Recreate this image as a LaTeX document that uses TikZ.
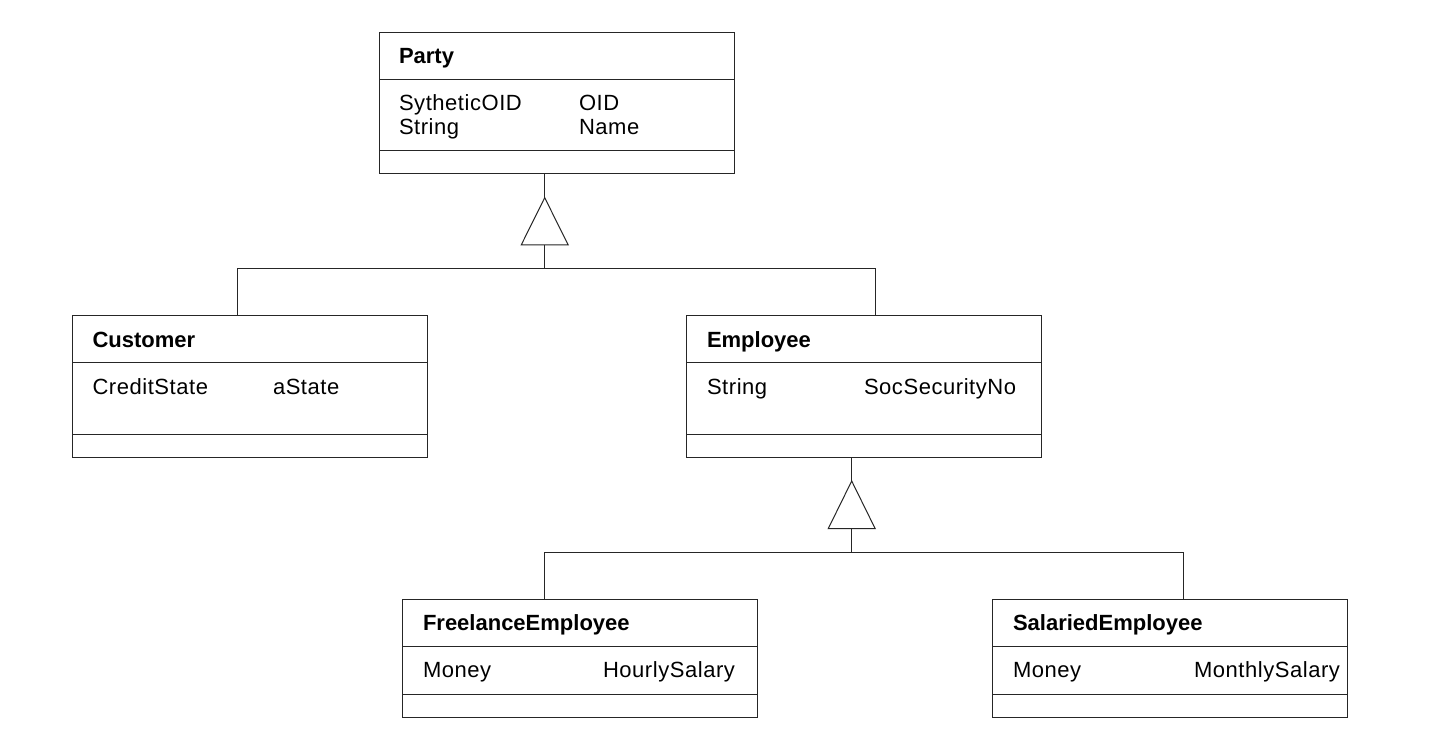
\documentclass[tikz,border=0pt]{standalone}
\usepackage{fontspec}
\setmainfont{Liberation Sans}[LetterSpace=2.5,BoldFeatures={LetterSpace=0}]
\begin{document}
\begin{tikzpicture}[x=1pt,y=-1pt,
  cls/.style={draw=black!85, line width=1pt, inner sep=0pt, outer sep=0pt, anchor=north west},
  divider/.style={draw=black!85, line width=1pt},
  lbl/.style={inner sep=0pt, outer sep=0pt, anchor=base west, font=\fontsize{22}{24}\selectfont},
  ttl/.style={lbl, font=\fontsize{22}{24}\selectfont\bfseries},
  conn/.style={draw=black!85, line width=1pt},
  gen/.style={draw=black!85, fill=white, line width=1pt, line join=miter}]
\useasboundingbox (0,0) rectangle (1430,746);

% ---------- Party ----------
\node[cls, minimum width=355pt, minimum height=141.5pt] (party) at (379,32.5) {};
\draw[divider] (379,80) -- (734,80);
\draw[divider] (379,150.5) -- (734,150.5);
\node[ttl] (partyT) at (399,64) {Party};
\node[lbl] (partyA1) at (399,111) {SytheticOID};
\node[lbl] (partyB1) at (579,111) {OID};
\node[lbl] (partyA2) at (399,135) {String};
\node[lbl] (partyB2) at (579,135) {Name};

% ---------- Customer ----------
\node[cls, minimum width=355.5pt, minimum height=141.5pt] (customer) at (72.3,315.7) {};
\draw[divider] (72.3,362.7) -- (427.8,362.7);
\draw[divider] (72.3,434.3) -- (427.8,434.3);
\node[ttl] (customerT) at (92.5,347) {Customer};
\node[lbl] (customerA1) at (92.5,394.5) {CreditState};
\node[lbl] (customerB1) at (273,394.5) {aState};

% ---------- Employee ----------
\node[cls, minimum width=355pt, minimum height=141.5pt] (employee) at (686,315.7) {};
\draw[divider] (686,362.7) -- (1041,362.7);
\draw[divider] (686,434.3) -- (1041,434.3);
\node[ttl] (employeeT) at (707,347) {Employee};
\node[lbl] (employeeA1) at (707,394.5) {String};
\node[lbl] (employeeB1) at (864,394.5) {SocSecurityNo};

% ---------- FreelanceEmployee ----------
\node[cls, minimum width=355pt, minimum height=118.3pt] (freelance) at (402.7,599) {};
\draw[divider] (402.7,646.7) -- (757.7,646.7);
\draw[divider] (402.7,694) -- (757.7,694);
\node[ttl] (freelanceT) at (423,630.5) {FreelanceEmployee};
\node[lbl] (freelanceA1) at (423,677.8) {Money};
\node[lbl] (freelanceB1) at (603,677.8) {HourlySalary};

% ---------- SalariedEmployee ----------
\node[cls, minimum width=355pt, minimum height=118.3pt] (salaried) at (992.7,599) {};
\draw[divider] (992.7,646.7) -- (1347.7,646.7);
\draw[divider] (992.7,694) -- (1347.7,694);
\node[ttl] (salariedT) at (1013,630.5) {SalariedEmployee};
\node[lbl] (salariedA1) at (1013,677.8) {Money};
\node[lbl] (salariedB1) at (1194,677.8) {MonthlySalary};

% ---------- Generalization Party <- Customer, Employee ----------
\coordinate (g1apex) at (544.7,197.7);
\coordinate (g1base) at (544.7,245);
\coordinate (g1bus) at (544.7,268.3);
\coordinate (g1left) at (237,268.3);
\coordinate (g1right) at (875.3,268.3);
\draw[conn] (g1apex |- party.south) -- (g1apex);
\draw[gen] (g1apex) -- (521.2,245) -- (568.2,245) -- cycle;
\draw[conn] (g1base) -- (g1bus);
\draw[conn] (g1left |- customer.north) -- (g1left) -- (g1right) -- (g1right |- employee.north);

% ---------- Generalization Employee <- Freelance, Salaried ----------
\coordinate (g2apex) at (851.7,481);
\coordinate (g2base) at (851.7,528.7);
\coordinate (g2bus) at (851.7,552.3);
\coordinate (g2left) at (544.7,552.3);
\coordinate (g2right) at (1183,552.3);
\draw[conn] (g2apex |- employee.south) -- (g2apex);
\draw[gen] (g2apex) -- (828.2,528.7) -- (875.2,528.7) -- cycle;
\draw[conn] (g2base) -- (g2bus);
\draw[conn] (g2left |- freelance.north) -- (g2left) -- (g2right) -- (g2right |- salaried.north);
\end{tikzpicture}
\end{document}
